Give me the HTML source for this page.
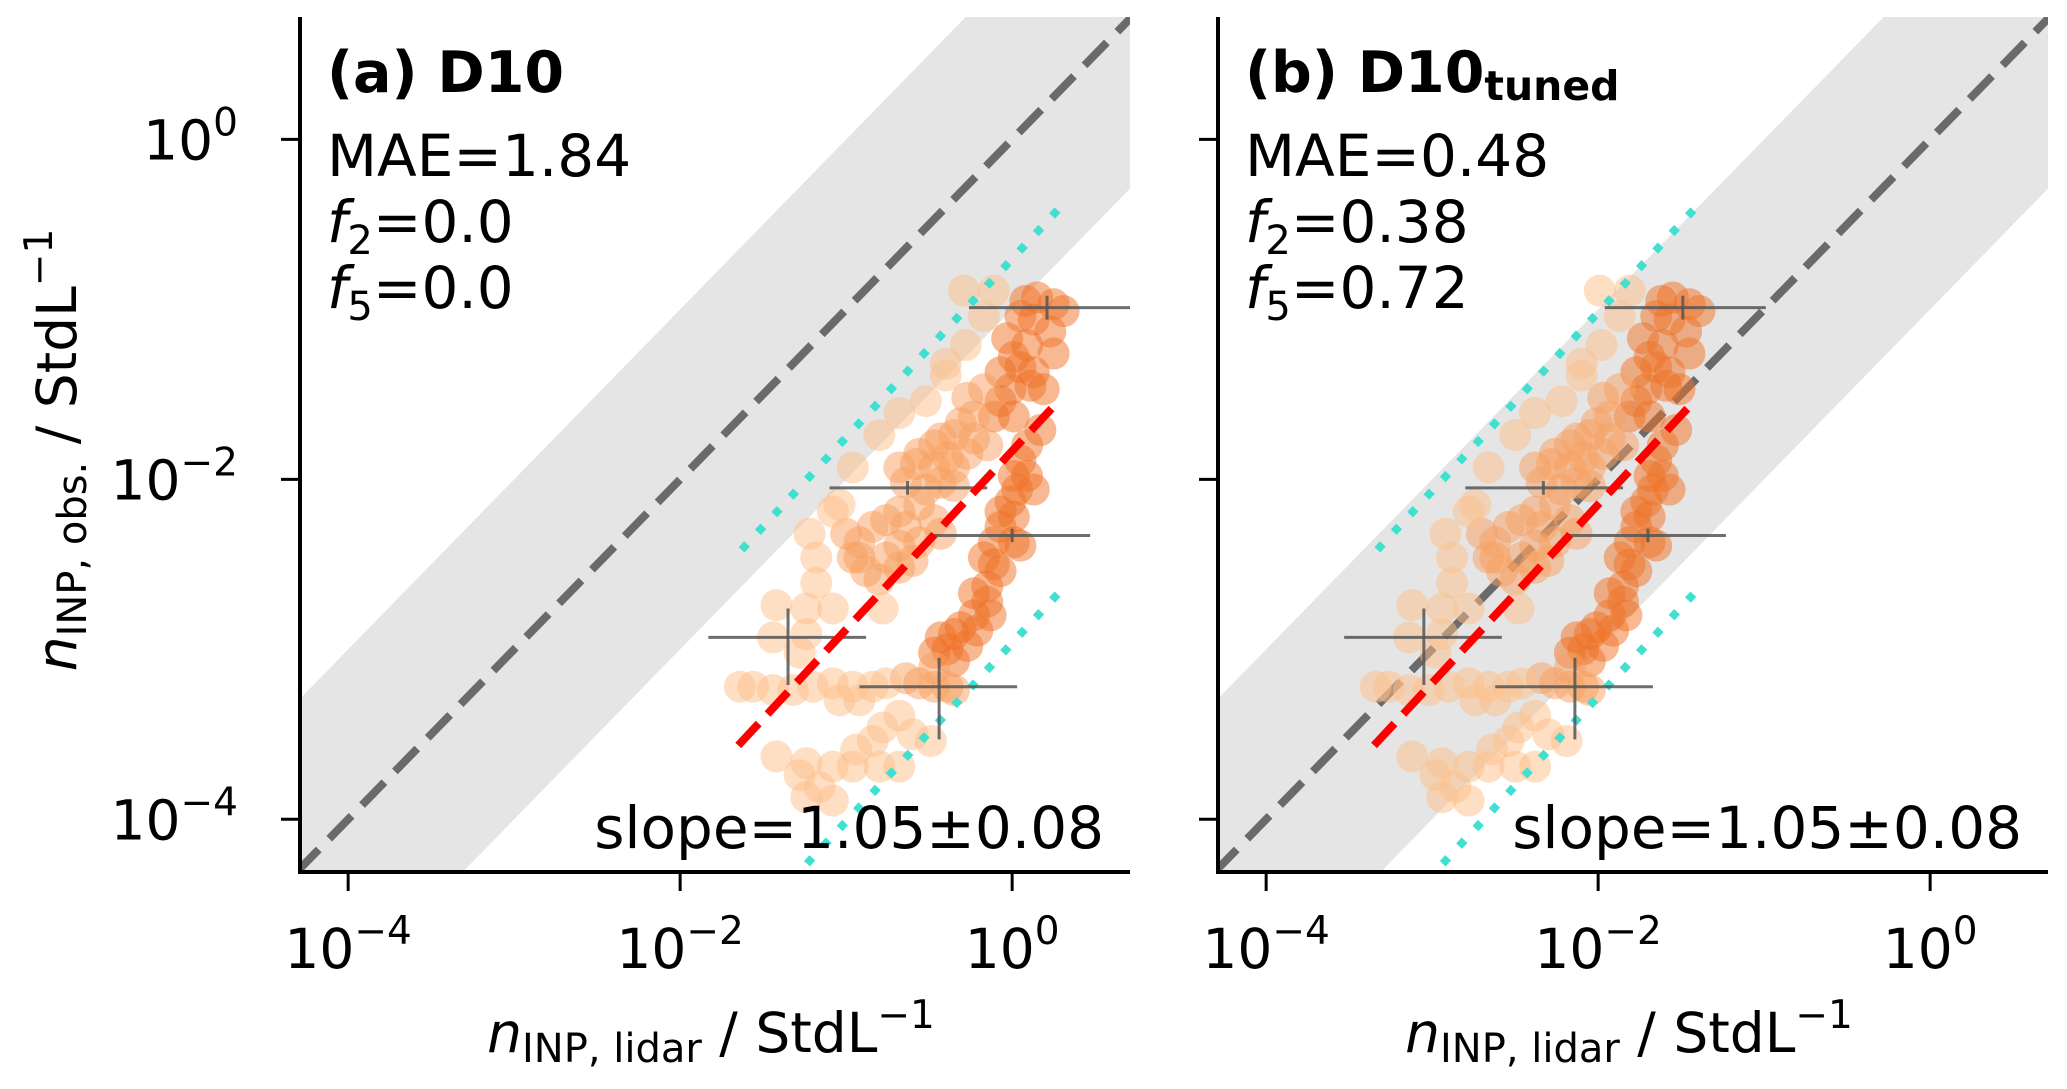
<!DOCTYPE html>
<html><head><meta charset="utf-8">
<style>
html,body{margin:0;padding:0;background:#fff;width:2067px;height:1089px;overflow:hidden;}
svg{display:block;font-family:"DejaVu Sans","Liberation Sans",sans-serif;}
</style></head>
<body>
<svg id="fig" width="2067" height="1089" viewBox="0 0 2067 1089" xmlns="http://www.w3.org/2000/svg">
<defs>
<clipPath id="clipA"><rect x="302" y="17" width="828" height="855"/></clipPath>
<clipPath id="clipB"><rect x="1220" y="17" width="828" height="855"/></clipPath>
</defs>
</svg>
<script>
// ---- data (log10 values) ----
const pointsX = [0.08,0.15,0.25,0.31,0.13,0.05,0.23,0.25,0.09,0.01,-0.03,-0.07,0.05,0.13,0.11,0.19,-0.01,-0.07,-0.11,0.01,0.17,0.09,0.05,0.01,0.09,0.13,0.03,-0.01,-0.07,0.01,-0.07,0.01,0.05,-0.11,-0.17,-0.11,-0.07,-0.15,-0.23,-0.15,-0.13,-0.23,-0.31,-0.21,-0.35,-0.43,-0.27,-0.39,-0.47,-0.35,
-0.17,-0.27,-0.23,-0.31,-0.35,-0.43,-0.47,-0.56,-0.58,-0.47,-0.39,-0.23,-0.15,-0.27,-0.35,-0.68,-0.64,-0.52,-0.43,-0.35,-0.56,-0.68,-0.76,-0.64,-0.47,-0.43,-0.56,-0.68,-0.84,-0.92,-0.76,-0.68,-0.60,-0.80,-0.88,-0.96,-1.00,-0.92,-0.64,-0.56,-0.47,-0.39,-0.35,-0.47,
-0.29,-0.11,-0.17,-0.28,-0.40,-0.40,-0.52,-0.68,-0.80,-0.96,-1.04,-1.08,-1.22,-1.18,-1.18,-1.24,-1.42,-1.08,-0.78,-1.44,-1.24,-1.28,-1.56,-1.64,-1.44,-1.32,-1.20,-1.08,-1.04,-0.96,-0.84,-0.76,-0.92,-0.68,-0.78,-0.60,-0.49,-0.84,-0.94,-1.08,-1.24,-1.42,-1.28,-1.16,-0.96,-0.80,-0.68,-1.24,-1.08];
const pointsY = [-0.95,-0.93,-0.97,-1.01,-1.06,-1.04,-1.13,-1.26,-1.21,-1.28,-1.17,-1.37,-1.34,-1.37,-1.45,-1.47,-1.47,-1.54,-1.63,-1.63,-1.71,-1.80,-1.89,-1.98,-1.98,-2.06,-2.06,-2.13,-2.19,-2.22,-2.28,-2.37,-2.39,-2.37,-2.46,-2.50,-2.54,-2.63,-2.67,-2.72,-2.80,-2.80,-2.87,-2.89,-2.91,-2.93,-2.98,-3.00,-3.02,-3.07,
-1.47,-1.52,-1.63,-1.67,-1.74,-1.76,-1.80,-1.85,-1.91,-1.93,-1.87,-1.76,-1.80,-1.85,-1.93,-1.93,-2.02,-2.06,-2.02,-2.04,-2.15,-2.19,-2.24,-2.28,-2.24,-2.32,-2.37,-2.39,-2.28,-2.37,-2.46,-2.52,-2.48,-2.59,-2.54,-2.46,-2.32,-2.46,-3.17,-3.20,-3.22,-3.22,-3.24,-3.11,
-0.89,-0.89,-1.04,-1.21,-1.32,-1.39,-1.54,-1.61,-1.74,-1.93,-2.15,-2.19,-2.32,-2.46,-2.61,-2.76,-2.74,-2.76,-2.76,-2.93,-2.91,-3.02,-3.22,-3.22,-3.24,-3.24,-3.22,-3.20,-3.30,-3.22,-3.22,-3.20,-3.30,-3.39,-3.46,-3.50,-3.54,-3.54,-3.59,-3.69,-3.67,-3.63,-3.74,-3.81,-3.69,-3.69,-3.69,-3.87,-3.89];
const pointsShade = [2,2,2,2,2,2,2,2,2,2,2,2,2,2,2,2,2,2,2,2,2,2,2,2,2,2,2,2,2,2,2,2,2,2,2,2,2,2,2,2,2,2,2,2,2,2,2,2,2,2,
1,1,1,1,1,1,1,1,1,1,1,1,1,1,1,1,1,1,1,1,1,1,1,1,1,1,1,1,1,1,1,1,1,1,1,1,1,1,1,1,1,1,1,1,
0,0,0,0,0,0,0,0,0,0,0,0,0,0,0,0,0,0,0,0,0,0,0,0,0,0,0,0,0,0,0,0,0,0,0,0,0,0,0,0,0,0,0,0,0,0,0,0,0];
// binned error bars (log10)
const binX = [0.21,-0.63,0.00,-1.35,-0.44];
const binY = [-0.99,-2.05,-2.33,-2.93,-3.22];
const binXlo = [-0.26,-1.10,-0.475,-1.83,-0.92];
const binXhi = [0.71,-0.15,0.47,-0.88,0.03];
const binYlo = [-1.06,-2.09,-2.37,-3.21,-3.53];
const binYhi = [-0.92,-2.01,-2.29,-2.76,-3.05];
// regression fit (log-log)
const fitSlope = 1.05;
const fitX0 = 0.26, fitY0 = -1.56;
const fitXRange = [-1.65, 0.26];
const predBand = 1.13;
const predXRange = [-1.63, 0.31];
const bandDecades = 1;
const tunedShift = [0, -1.70];
const xTicks = [-4,-2,0];
const yTicks = [0,-2,-4];
const xTickLabels = ["−4","−2","0"];
const yTickLabels = ["0","−2","−4"];
const panelTitles = ["(a) D10","(b) D10"];
const maeVals = ["1.84","0.48"];
const f2Vals = ["0.0","0.38"];
const f5Vals = ["0.0","0.72"];
const slopeText = "slope=1.05±0.08";

const svg = document.getElementById('fig');
const NS = 'http://www.w3.org/2000/svg';
const XMIN=-4.29, XMAX=0.71, YMIN=-4.31, YMAX=0.72;
const panels = [{x0:300,x1:1130,clip:'clipA'},{x0:1218,x1:2048,clip:'clipB'}];
const yTop=17, yBot=872;
function mk(tag, attrs, parent){const e=document.createElementNS(NS,tag);for(const k in attrs)e.setAttribute(k,attrs[k]);(parent||svg).appendChild(e);return e;}
function sx(p,v){return p.x0+(v-XMIN)/(XMAX-XMIN)*(p.x1-p.x0);}
function sy(v){return yBot-(v-YMIN)/(YMAX-YMIN)*(yBot-yTop);}
const fills=['#fdbf8a','#f8a060','#f07225'];

panels.forEach((p,pi)=>{
  const sh = tunedShift[pi];
  const g = mk('g',{'clip-path':`url(#${p.clip})`});
  
  
  const lo=XMIN-2, hi=XMAX+2;
  const band=mk('polygon',{points:`${sx(p,lo)},${sy(lo+bandDecades)} ${sx(p,hi)},${sy(hi+bandDecades)} ${sx(p,hi)},${sy(hi-bandDecades)} ${sx(p,lo)},${sy(lo-bandDecades)}`,fill:'#e5e5e5'},g);
  
  
  const one=mk('line',{x1:sx(p,lo),y1:sy(lo),x2:sx(p,hi),y2:sy(hi),stroke:'#6a6a6a','stroke-width':8,'stroke-dasharray':'32 15'},g);
  
  
  for(let i=0;i<pointsX.length;i++){
    const c=mk('circle',{cx:sx(p,pointsX[i]+sh),cy:sy(pointsY[i]),r:16,fill:fills[pointsShade[i]],'fill-opacity':0.5},g);
    
    
  }
  [predBand,-predBand].forEach((o,k)=>{
    const a=predXRange[0], b=predXRange[1];
    const l=mk('line',{x1:sx(p,a+sh),y1:sy(fitY0+fitSlope*(a-fitX0)+o),x2:sx(p,b+sh),y2:sy(fitY0+fitSlope*(b-fitX0)+o),stroke:'#40e0d0','stroke-width':8,'stroke-dasharray':'8 16'},g);
    
    
  });
  for(let i=0;i<binX.length;i++){
    const h=mk('line',{x1:sx(p,binXlo[i]+sh),y1:sy(binY[i]),x2:sx(p,binXhi[i]+sh),y2:sy(binY[i]),stroke:'#555','stroke-opacity':0.85,'stroke-width':3},g);
    
    
    const v=mk('line',{x1:sx(p,binX[i]+sh),y1:sy(binYlo[i]),x2:sx(p,binX[i]+sh),y2:sy(binYhi[i]),stroke:'#555','stroke-opacity':0.85,'stroke-width':3},g);
    
    
  }
  const fa=fitXRange[0], fb=fitXRange[1];
  const fit=mk('line',{x1:sx(p,fa+sh),y1:sy(fitY0+fitSlope*(fa-fitX0)),x2:sx(p,fb+sh),y2:sy(fitY0+fitSlope*(fb-fitX0)),stroke:'#ff0000','stroke-width':8,'stroke-dasharray':'30 13'},g);
  
  

  const ax=mk('line',{x1:p.x0,y1:yBot,x2:p.x1,y2:yBot,stroke:'#000','stroke-width':4});
  
  
  const ay=mk('line',{x1:p.x0,y1:yTop,x2:p.x0,y2:yBot+2,stroke:'#000','stroke-width':4});
  
  
  xTicks.forEach((t,i)=>{
    const X=sx(p,t);
    const tk=mk('line',{x1:X,y1:yBot,x2:X,y2:yBot+19,stroke:'#000','stroke-width':3});
    
    
    const tx=mk('text',{x:X,y:968,'font-size':55,'text-anchor':'middle'});
    
    
    tx.innerHTML=`10<tspan font-size="39" dy="-24">${xTickLabels[i]}</tspan>`;
  });
  yTicks.forEach((t,i)=>{
    const Y=sy(t);
    const tk=mk('line',{x1:p.x0,y1:Y,x2:p.x0-19,y2:Y,stroke:'#000','stroke-width':3});
    
    
    if(pi===0){
      const tx=mk('text',{x:238,y:Y+20,'font-size':55,'text-anchor':'end'});
      
      
      tx.innerHTML=`10<tspan font-size="39" dy="-24">${yTickLabels[i]}</tspan>`;
    }
  });
  const tx0=p.x0+27;
  const tt=mk('text',{x:tx0,y:92,'font-size':57,'font-weight':'bold'});
  
  
  tt.innerHTML = pi===0 ? panelTitles[0] : `${panelTitles[1]}<tspan font-size="41" dy="8">tuned</tspan>`;
  const m=mk('text',{x:tx0,y:176,'font-size':58});
  
  
  m.textContent='MAE='+maeVals[pi];
  const f2=mk('text',{x:tx0,y:242,'font-size':58});
  
  
  f2.innerHTML=`<tspan font-style="italic">f</tspan><tspan font-size="40" dy="12">2</tspan><tspan dy="-12">=${f2Vals[pi]}</tspan>`;
  const f5=mk('text',{x:tx0,y:308,'font-size':58});
  
  
  f5.innerHTML=`<tspan font-style="italic">f</tspan><tspan font-size="40" dy="12">5</tspan><tspan dy="-12">=${f5Vals[pi]}</tspan>`;
  const s=mk('text',{x:p.x1-26,y:848,'font-size':58,'text-anchor':'end'});
  
  
  s.textContent=slopeText;
  const xl=mk('text',{x:(p.x0+p.x1)/2-4,y:1052,'font-size':55,'text-anchor':'middle'});
  
  
  xl.innerHTML=`<tspan font-style="italic">n</tspan><tspan font-size="40" dy="10">INP, lidar</tspan><tspan dy="-10"> / StdL</tspan><tspan font-size="39" dy="-24">−1</tspan>`;
});
const yl=mk('text',{x:0,y:0,'font-size':55,'text-anchor':'middle',transform:'translate(76,450) rotate(-90)'});


yl.innerHTML=`<tspan font-style="italic">n</tspan><tspan font-size="40" dy="10">INP, obs.</tspan><tspan dy="-10"> / StdL</tspan><tspan font-size="39" dy="-24">−1</tspan>`;
</script>
</body></html>
